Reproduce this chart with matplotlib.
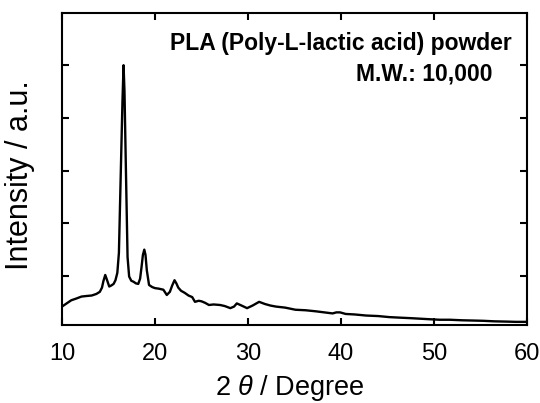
import matplotlib.pyplot as plt
import numpy as np

# XRD pattern (2theta in degrees, intensity in tick units)
two_theta = [10.0, 10.5, 11.0, 11.5, 12.1, 12.6, 13.2, 13.7, 14.07, 14.3, 14.45, 14.65,
             14.85, 15.08, 15.3, 15.55, 15.75, 15.95, 16.12, 16.32, 16.5, 16.62, 16.72,
             16.88, 17.05, 17.22, 17.45, 17.7, 17.95, 18.2, 18.4, 18.56, 18.7, 18.85,
             18.98, 19.12, 19.36, 19.7, 20.0, 20.4, 20.9, 21.27, 21.6, 21.85, 22.1,
             22.3, 22.5, 22.8, 23.2, 23.6, 24.0, 24.3, 24.7, 25.0, 25.4, 25.8, 26.3,
             27.0, 27.5, 28.1, 28.5, 28.8, 29.3, 29.9, 30.5, 31.2, 31.8, 32.4, 33.0,
             34.0, 35.1, 36.2, 37.3, 38.2, 39.1, 39.5, 39.9, 40.5, 41.5, 42.7, 44.0,
             45.2, 46.3, 47.5, 48.5, 49.5, 50.6, 51.7, 53.0, 54.2, 55.3, 56.5, 57.8,
             58.8, 60.0]
intensity = [0.42, 0.48, 0.54, 0.57, 0.61, 0.62, 0.63, 0.66, 0.70, 0.78, 0.90, 1.02,
             0.92, 0.80, 0.82, 0.85, 0.92, 1.06, 1.44, 2.95, 4.3, 5.0, 4.5,
             2.95, 1.36, 0.99, 0.91, 0.89, 0.86, 0.85, 0.95, 1.18, 1.40, 1.50,
             1.40, 1.11, 0.83, 0.79, 0.77, 0.76, 0.74, 0.64, 0.70, 0.82, 0.92,
             0.86, 0.78, 0.72, 0.68, 0.63, 0.60, 0.51, 0.53, 0.52, 0.49, 0.45, 0.46,
             0.45, 0.43, 0.39, 0.42, 0.48, 0.44, 0.39, 0.44, 0.51, 0.47, 0.44, 0.42,
             0.40, 0.36, 0.35, 0.33, 0.31, 0.29, 0.31, 0.31, 0.28, 0.27, 0.25, 0.24,
             0.22, 0.21, 0.20, 0.19, 0.18, 0.17, 0.17, 0.16, 0.155, 0.15, 0.14, 0.135,
             0.13, 0.13]

x_ticks = [10, 20, 30, 40, 50, 60]
y_ticks = [1, 2, 3, 4, 5]

plt.rcParams['font.family'] = ['Liberation Sans', 'DejaVu Sans']
plt.rcParams['mathtext.fontset'] = 'custom'
plt.rcParams['mathtext.it'] = 'Liberation Sans:italic'

fig = plt.figure(figsize=(5.4, 4.03), dpi=100)
ax = fig.add_axes([0.1148, 0.1935, 0.8611, 0.7742])

ax.plot(two_theta, intensity, color='black', lw=1.7)

ax.set_xlim(10, 60)
ax.set_ylim(0.07, 5.99)
ax.set_xticks(x_ticks)
ax.set_yticks(y_ticks)
ax.set_yticklabels([])
ax.tick_params(direction='in', length=5, width=1.5, top=True, right=True,
               labelsize=17, pad=13)
for s in ax.spines.values():
    s.set_linewidth(1.5)

ax.set_xlabel(r'2 $\theta$ / Degree', fontsize=19.5)
ax.xaxis.set_label_coords(0.49, -0.153)
ax.set_ylabel('Intensity / a.u.', fontsize=22)
ax.yaxis.set_label_coords(-0.058, 0.48)

ax.text(0.968, 0.88, 'PLA (Poly-L-lactic acid) powder', transform=ax.transAxes,
        ha='right', va='baseline', fontsize=16.5, fontweight='bold')
ax.text(0.925, 0.785, 'M.W.: 10,000', transform=ax.transAxes,
        ha='right', va='baseline', fontsize=16.5, fontweight='bold')

plt.savefig('out.png', dpi=100)
